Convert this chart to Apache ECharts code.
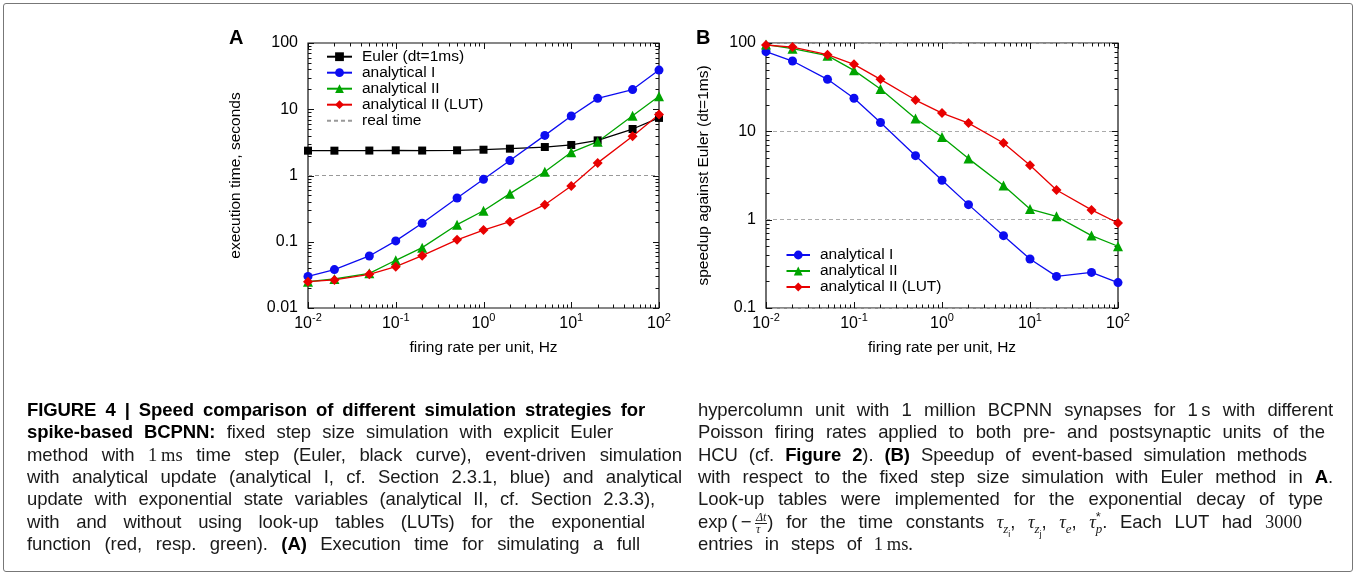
<!DOCTYPE html>
<html>
<head>
<meta charset="utf-8">
<script src="https://cdn.jsdelivr.net/npm/echarts@6/dist/echarts.min.js"></script>
<style>
  html, body { margin: 0; padding: 0; background: #fff; }
  #chart { position: absolute; left: 0; top: 0; width: 1355px; height: 575px; }
  .frame { position: absolute; left: 3px; top: 3px; width: 1348px; height: 567px;
           border: 1px solid #777; border-radius: 3px; pointer-events: none; }
  .ln { position: absolute; font-family: "Liberation Sans", Arial, Helvetica, sans-serif;
        font-size: 18.5px; letter-spacing: -0.1px; line-height: 22px; height: 22px; color: #1a1a1a;
        text-align: justify; text-align-last: justify; white-space: nowrap; }
  .ln b { color: #000; }
  .serif { font-family: "Liberation Serif", "DejaVu Serif", serif; display: inline-block; letter-spacing: 0; }
  .math { display: inline-block; white-space: nowrap; }
  .math i { font-family: "Liberation Serif", "DejaVu Serif", serif; }
  .math sub, .math sup { font-size: 70%; line-height: 0; }
  .frac { display: inline-block; vertical-align: middle; text-align: center; font-size: 12px;
          line-height: 11px; font-family: "Liberation Serif", "DejaVu Serif", serif; font-style: italic; }
  .frac span { display: block; padding: 0 1px; }
  .frac .num { border-bottom: 1px solid #222; }
</style>
</head>
<body>
<div id="chart"></div>
<div class="frame"></div>

<!-- caption, left column -->
<div class="ln" style="left:27px; top:399px; width:618px;"><b>FIGURE 4 | Speed comparison of different simulation strategies for</b></div>
<div class="ln" style="left:27px; top:421px; width:586px;"><b>spike-based BCPNN:</b> fixed step size simulation with explicit Euler</div>
<div class="ln" style="left:27px; top:444px; width:655px;">method with <span class="serif">1&#8201;ms</span> time step (Euler, black curve), event-driven simulation</div>
<div class="ln" style="left:27px; top:466px; width:655px;">with analytical update (analytical I, cf. Section 2.3.1, blue) and analytical</div>
<div class="ln" style="left:27px; top:488px; width:628px;">update with exponential state variables (analytical II, cf. Section 2.3.3),</div>
<div class="ln" style="left:27px; top:511px; width:618px;">with and without using look-up tables (LUTs) for the exponential</div>
<div class="ln" style="left:27px; top:533px; width:613px;">function (red, resp. green). <b>(A)</b> Execution time for simulating a full</div>

<!-- caption, right column -->
<div class="ln" style="left:698px; top:399px; width:635px;">hypercolumn unit with 1 million BCPNN synapses for 1&#8201;s with different</div>
<div class="ln" style="left:698px; top:421px; width:627px;">Poisson firing rates applied to both pre- and postsynaptic units of the</div>
<div class="ln" style="left:698px; top:444px; width:609px;">HCU (cf. <b>Figure 2</b>). <b>(B)</b> Speedup of event-based simulation methods</div>
<div class="ln" style="left:698px; top:466px; width:635px;">with respect to the fixed step size simulation with Euler method in <b>A</b>.</div>
<div class="ln" style="left:698px; top:488px; width:625px;">Look-up tables were implemented for the exponential decay of type</div>
<div class="ln" style="left:698px; top:511px; width:604px;"><span class="math">exp&#8201;(&#8201;&#8722;&#8201;<span class="frac"><span class="num">&#916;t</span><span>&#964;</span></span>)</span> for the time constants <span class="math"><i>&#964;</i><sub><i>z</i><sub>i</sub></sub>,</span> <span class="math"><i>&#964;</i><sub><i>z</i><sub>j</sub></sub>,</span> <span class="math"><i>&#964;</i><sub><i>e</i></sub>,</span> <span class="math"><i>&#964;</i><sup>*</sup><sub style="margin-left:-5px"><i>p</i></sub>.</span> Each LUT had <span class="serif">3000</span></div>
<div class="ln" style="left:698px; top:533px; width:215px;">entries in steps of <span class="serif">1&#8201;ms.</span></div>

<script>
// Poisson firing rate per unit (Hz) shared by both panels
const firingRates = [0.01, 0.02, 0.05, 0.1, 0.2, 0.5, 1, 2, 5, 10, 20, 50, 100];

// Panel A: execution time in seconds
const timeEuler           = [2.37, 2.37, 2.38, 2.40, 2.38, 2.40, 2.45, 2.54, 2.69, 2.89, 3.39, 5.03, 7.4];
const timeAnalyticalI     = [0.030, 0.038, 0.061, 0.103, 0.19, 0.457, 0.875, 1.68, 4.03, 7.9, 14.6, 19.8, 39];
const timeAnalyticalII    = [0.025, 0.0274, 0.0334, 0.0525, 0.0815, 0.181, 0.294, 0.532, 1.14, 2.24, 3.24, 8.0, 15.7];
const timeAnalyticalIILut = [0.025, 0.0265, 0.0322, 0.042, 0.0616, 0.107, 0.150, 0.201, 0.363, 0.695, 1.55, 3.9, 8.3];
const realTimeSeconds = 1;

// Panel B: speedup against Euler (dt = 1 ms)
const speedupAnalyticalI     = [79.8, 62.5, 38.8, 23.7, 12.6, 5.3, 2.79, 1.48, 0.659, 0.359, 0.228, 0.253, 0.194];
const speedupAnalyticalII    = [96, 86.3, 71.9, 49, 30.1, 14.0, 8.63, 4.91, 2.43, 1.32, 1.09, 0.66, 0.50];
const speedupAnalyticalIILut = [94.9, 90, 73.8, 57.3, 38.8, 22.6, 16.1, 12.4, 7.38, 4.12, 2.17, 1.29, 0.916];

// Axis ranges (decades)
const rateRange    = [0.01, 100];
const timeRange    = [0.01, 100];
const speedupRange = [0.1, 100];
const minorSteps = [2, 3, 4, 5, 6, 7, 8, 9];

const FONT = '"Liberation Sans", Arial, Helvetica, sans-serif';
const BLUE = '#0c0cf0', GREEN = '#00a400', RED = '#e80000';

const pairs = ys => firingRates.map((x, i) => [x, ys[i]]);

// Major and minor tick positions of a base-10 axis: [value, isMajor]
function logTickList(range) {
  const out = [];
  const e0 = Math.round(Math.log10(range[0])), e1 = Math.round(Math.log10(range[1]));
  for (let e = e0; e <= e1; e++) {
    const base = Math.pow(10, e);
    out.push([base, 1]);
    if (e < e1) minorSteps.forEach(m => out.push([m * base, 0]));
  }
  return out;
}

// Tick marks on all four sides of a plot frame, pointing inwards
function tickData(xRange, yRange) {
  const d = [];
  logTickList(xRange).forEach(([v, major]) => d.push([v, 1, 0, major]));
  logTickList(yRange).forEach(([v, major]) => d.push([1, v, 1, major]));
  return d;
}

function renderTicks(params, api) {
  const cs = params.coordSys;
  const kind = api.value(2), major = api.value(3);
  const len = major ? 6 : 3.5;
  const style = { stroke: '#111', lineWidth: 1 };
  if (kind === 0) {
    const x = Math.round(api.coord([api.value(0), 1])[0]) + 0.5;
    const yb = cs.y + cs.height, yt = cs.y;
    return { type: 'group', children: [
      { type: 'line', shape: { x1: x, y1: yb, x2: x, y2: yb - len }, style },
      { type: 'line', shape: { x1: x, y1: yt, x2: x, y2: yt + len }, style }
    ]};
  }
  const y = Math.round(api.coord([1, api.value(1)])[1]) + 0.5;
  const xl = cs.x, xr = cs.x + cs.width;
  return { type: 'group', children: [
    { type: 'line', shape: { x1: xl, y1: y, x2: xl + len, y2: y }, style },
    { type: 'line', shape: { x1: xr, y1: y, x2: xr - len, y2: y }, style }
  ]};
}

function xAxisCfg(gridIndex) {
  return {
    type: 'log', logBase: 10, min: rateRange[0], max: rateRange[1], gridIndex,
    name: 'firing rate per unit, Hz', nameLocation: 'middle', nameGap: 32,
    nameTextStyle: { fontSize: 15.5, color: '#000', fontFamily: FONT },
    axisLine: { show: false }, axisTick: { show: false }, splitLine: { show: false },
    axisLabel: {
      margin: 7,
      formatter: v => '{b|10}{s|' + Math.round(Math.log10(v)) + '}',
      rich: {
        b: { fontSize: 16, color: '#000', fontFamily: FONT, lineHeight: 18 },
        s: { fontSize: 11, color: '#000', fontFamily: FONT, lineHeight: 11, padding: [0, 0, 12, 0] }
      }
    }
  };
}

function yAxisCfg(gridIndex, range, name, nameGap, dashedSplits) {
  return {
    type: 'log', logBase: 10, min: range[0], max: range[1], gridIndex,
    name, nameLocation: 'middle', nameGap,
    nameTextStyle: { fontSize: 15.5, color: '#000', fontFamily: FONT },
    axisLine: { show: false }, axisTick: { show: false },
    splitLine: { show: dashedSplits, lineStyle: { color: '#aaa', type: [4, 3], width: 1 } },
    axisLabel: {
      margin: 10, fontSize: 16, color: '#000', fontFamily: FONT,
      formatter: v => v >= 1 ? String(Math.round(v)) : String(+v.toPrecision(1))
    }
  };
}

function lineSeries(name, data, color, symbol, size, axisIndex) {
  return {
    type: 'line', name, data: pairs(data), xAxisIndex: axisIndex, yAxisIndex: axisIndex,
    symbol, symbolSize: size, showSymbol: true,
    itemStyle: { color }, lineStyle: { color, width: 1.3 }, z: 3
  };
}

const legendText = { fontSize: 15.5, color: '#000', fontFamily: FONT, padding: [0, 0, 0, 5] };

const chart = echarts.init(document.getElementById('chart'), null, { renderer: 'canvas' });

chart.setOption({
  animation: false,
  backgroundColor: 'transparent',
  textStyle: { fontFamily: FONT },
  grid: [
    { left: 308, top: 43, width: 351, height: 265, show: true, borderColor: '#111', borderWidth: 1.2, backgroundColor: 'transparent' },
    { left: 766, top: 43, width: 352, height: 265, show: true, borderColor: '#111', borderWidth: 1.2, backgroundColor: 'transparent' }
  ],
  xAxis: [xAxisCfg(0), xAxisCfg(1)],
  yAxis: [
    yAxisCfg(0, timeRange, 'execution time, seconds', 64, false),
    yAxisCfg(1, speedupRange, 'speedup against Euler (dt=1ms)', 54, true)
  ],
  legend: [
    {
      left: 326, top: 48.7, orient: 'vertical', padding: 0, itemWidth: 25, itemHeight: 11, itemGap: 0,
      selectedMode: false,
      textStyle: Object.assign({ lineHeight: 16 }, legendText),
      data: ['Euler (dt=1ms)', 'analytical I', 'analytical II', 'analytical II (LUT)',
             { name: 'real time', itemStyle: { opacity: 0 } }]
    },
    {
      left: 785.5, top: 247, orient: 'vertical', padding: 0, itemWidth: 23.5, itemHeight: 11, itemGap: 0,
      selectedMode: false,
      textStyle: Object.assign({ lineHeight: 15.5 }, legendText),
      data: ['analytical I', 'analytical II', 'analytical II (LUT)']
    }
  ],
  graphic: [
    { type: 'text', left: 229, top: 28, style: { text: 'A', font: 'bold 20px ' + FONT, fill: '#000' } },
    { type: 'text', left: 696, top: 28, style: { text: 'B', font: 'bold 20px ' + FONT, fill: '#000' } }
  ],
  series: [
    {
      type: 'line', name: 'real time', xAxisIndex: 0, yAxisIndex: 0,
      data: [[rateRange[0], realTimeSeconds], [rateRange[1], realTimeSeconds]],
      symbol: 'none', lineStyle: { color: '#999', width: 1, type: [4, 3] }, itemStyle: { color: '#999' }, z: 1
    },
    lineSeries('Euler (dt=1ms)', timeEuler, '#000', 'rect', 8, 0),
    lineSeries('analytical I', timeAnalyticalI, BLUE, 'circle', 9, 0),
    lineSeries('analytical II', timeAnalyticalII, GREEN, 'triangle', 10, 0),
    lineSeries('analytical II (LUT)', timeAnalyticalIILut, RED, 'diamond', 10, 0),
    lineSeries('analytical I', speedupAnalyticalI, BLUE, 'circle', 9, 1),
    lineSeries('analytical II', speedupAnalyticalII, GREEN, 'triangle', 10, 1),
    lineSeries('analytical II (LUT)', speedupAnalyticalIILut, RED, 'diamond', 10, 1),
    {
      type: 'custom', name: 'frame ticks A', xAxisIndex: 0, yAxisIndex: 0, clip: false, silent: true,
      data: tickData(rateRange, timeRange), renderItem: renderTicks, z: 2
    },
    {
      type: 'custom', name: 'frame ticks B', xAxisIndex: 1, yAxisIndex: 1, clip: false, silent: true,
      data: tickData(rateRange, speedupRange), renderItem: renderTicks, z: 2
    }
  ]
});
</script>
</body>
</html>
